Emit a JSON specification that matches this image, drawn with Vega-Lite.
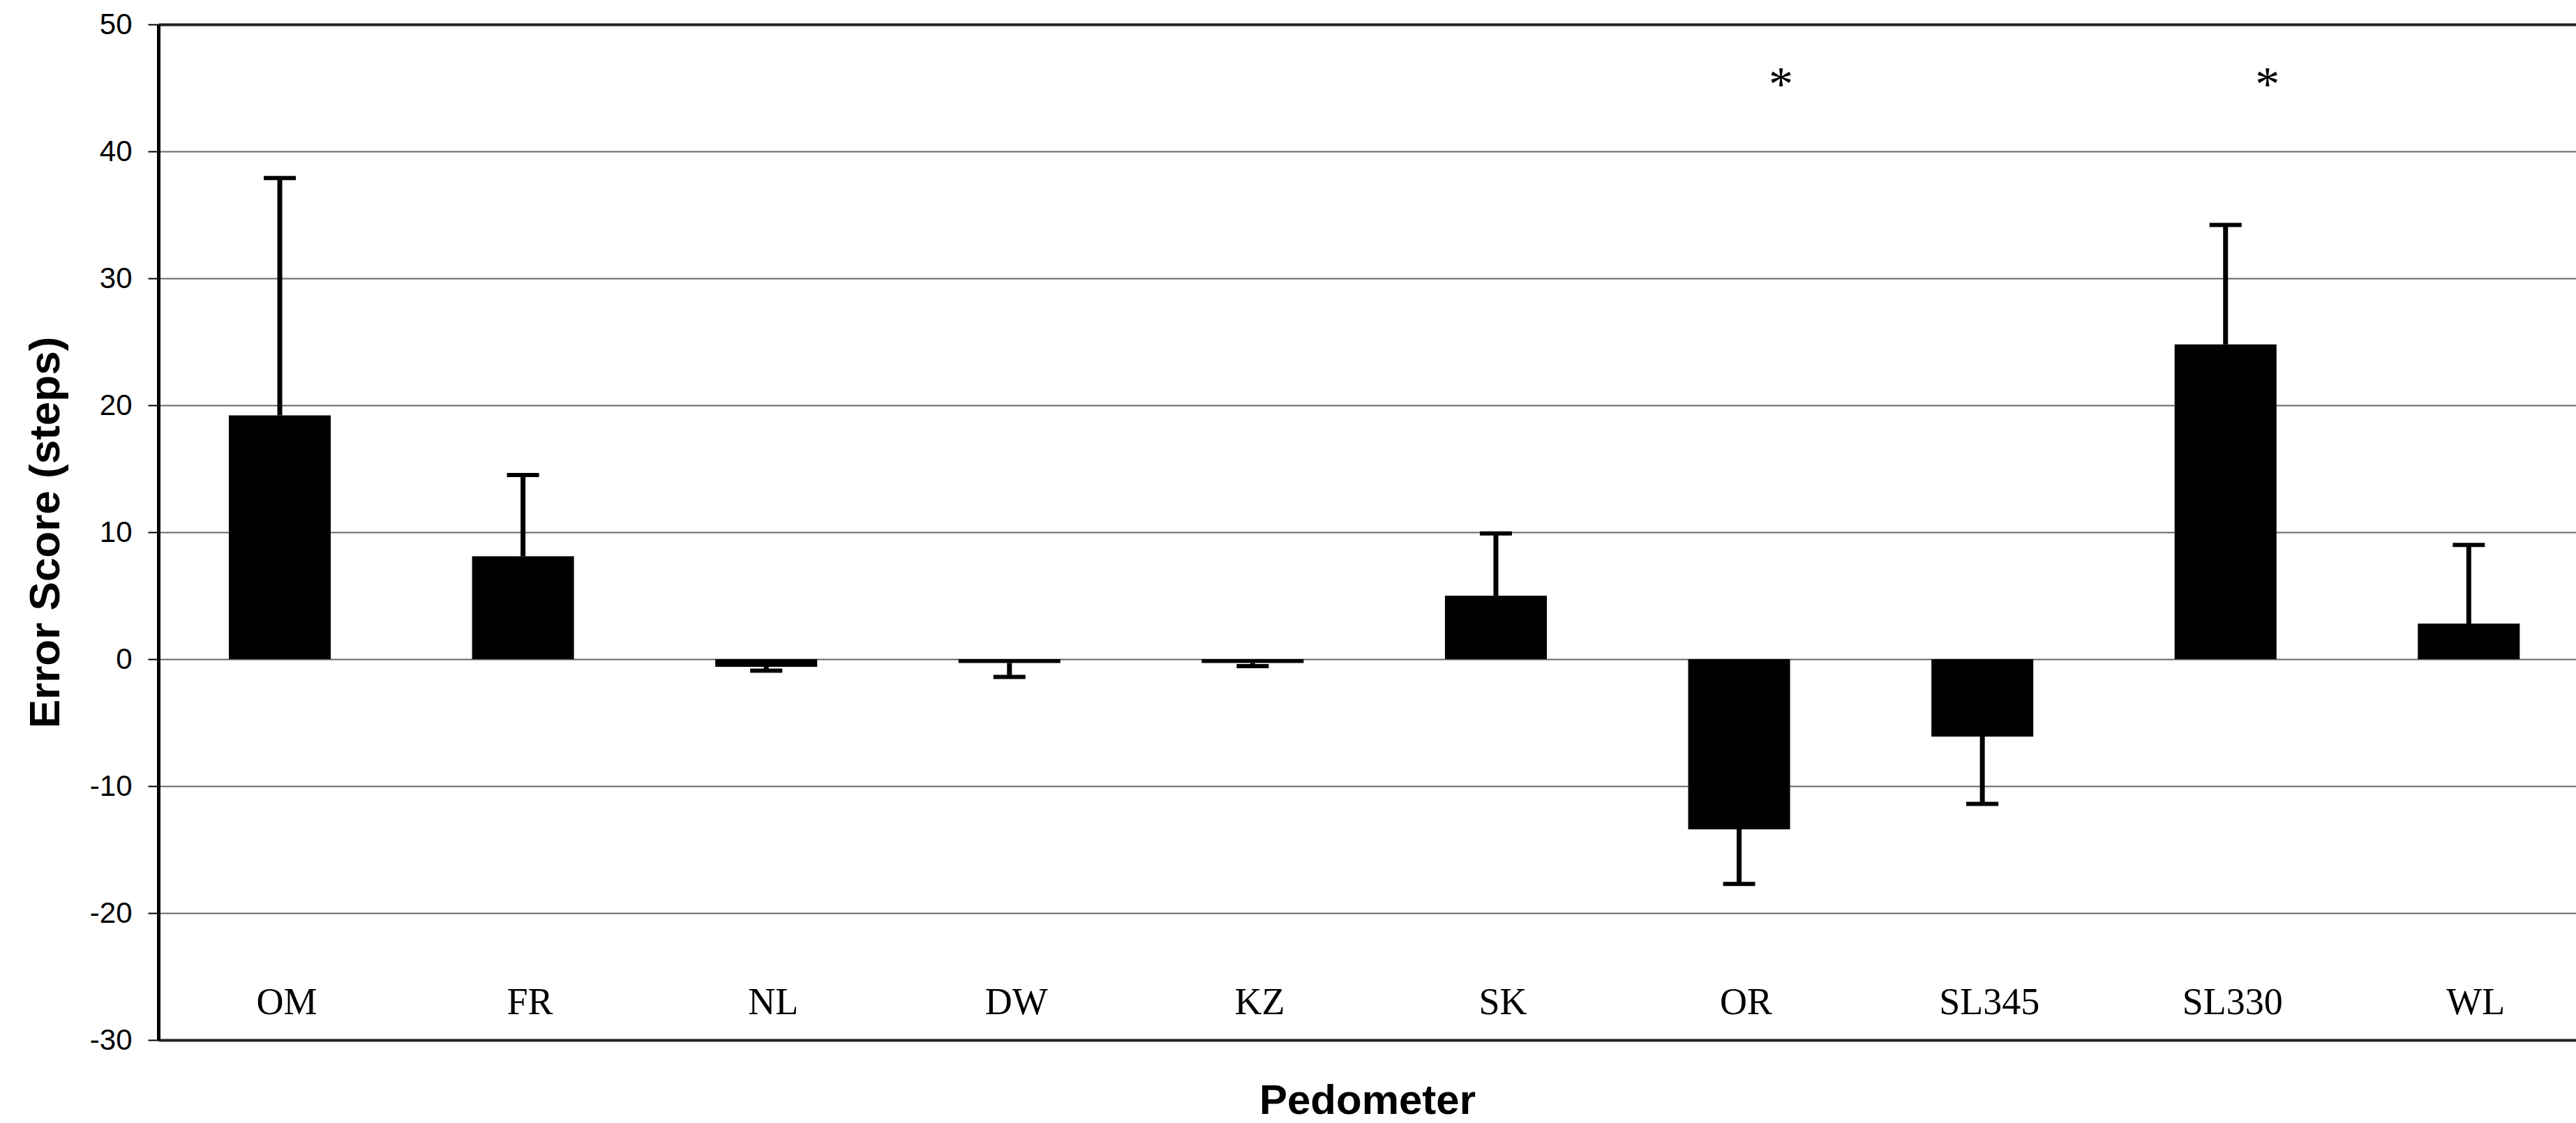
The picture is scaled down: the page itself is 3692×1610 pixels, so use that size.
{
  "$schema": "https://vega.github.io/schema/vega-lite/v6.json",
  "width": 3465,
  "height": 1456,
  "autosize": {"type": "none"},
  "padding": {"left": 227, "top": 35, "right": 0, "bottom": 119},
  "background": "white",
  "config": {"view": {"stroke": null}},
  "data": {
    "values": [
      {"name": "OM", "mean": 19.2, "end": 37.9, "sig": false},
      {"name": "FR", "mean": 8.1, "end": 14.5, "sig": false},
      {"name": "NL", "mean": -0.6, "end": -0.9, "sig": false},
      {"name": "DW", "mean": -0.3, "end": -1.4, "sig": false},
      {"name": "KZ", "mean": -0.3, "end": -0.55, "sig": false},
      {"name": "SK", "mean": 5.0, "end": 9.9, "sig": false},
      {"name": "OR", "mean": -13.4, "end": -17.7, "sig": true},
      {"name": "SL345", "mean": -6.1, "end": -11.4, "sig": false},
      {"name": "SL330", "mean": 24.8, "end": 34.2, "sig": true},
      {"name": "WL", "mean": 2.8, "end": 9.0, "sig": false}
    ]
  },
  "encoding": {
    "x": {
      "field": "name",
      "type": "nominal",
      "sort": null,
      "scale": {"paddingInner": 0.581, "paddingOuter": 0.2605, "align": 0.556},
      "axis": {
        "title": "Pedometer",
        "titleFont": "Liberation Sans",
        "titleFontSize": 60,
        "titleFontWeight": "bold",
        "titleColor": "black",
        "titlePadding": 58,
        "minExtent": 0,
        "labelFont": "Liberation Serif",
        "labelFontSize": 54,
        "labelColor": "black",
        "labelAngle": 0,
        "labelBaseline": "alphabetic",
        "labelPadding": -38,
        "labelOffset": 10,
        "ticks": false,
        "domain": false,
        "grid": false
      }
    }
  },
  "layer": [
    {
      "mark": {"type": "bar", "color": "black"},
      "encoding": {
        "y": {
          "field": "mean",
          "type": "quantitative",
          "title": "Error Score (steps)",
          "scale": {"domain": [-30, 50], "nice": false, "zero": false},
          "axis": {
            "title": "Error Score (steps)",
            "titleFont": "Liberation Sans",
            "titleFontSize": 62,
            "titleFontWeight": "bold",
            "titleColor": "black",
            "titlePadding": 31,
            "values": [-30, -20, -10, 0, 10, 20, 30, 40, 50],
            "labelExpr": "'' + datum.value",
            "labelFont": "Liberation Sans",
            "labelFontSize": 42,
            "labelColor": "black",
            "labelPadding": 23,
            "tickSize": 15,
            "tickWidth": 2,
            "tickColor": "black",
            "domainColor": "black",
            "domainWidth": 5,
            "grid": true,
            "gridColor": {"condition": {"test": "datum.value == 50 || datum.value == -30", "value": "#222222"}, "value": "#666666"},
            "gridWidth": {"condition": {"test": "datum.value == 50 || datum.value == -30", "value": 4}, "value": 2}
          }
        }
      }
    },
    {
      "mark": {"type": "rule", "color": "black", "strokeWidth": 7},
      "encoding": {
        "y": {"field": "mean", "type": "quantitative", "title": "Error Score (steps)", "scale": {"domain": [-30, 50], "nice": false, "zero": false}},
        "y2": {"field": "end"}
      }
    },
    {
      "mark": {"type": "tick", "color": "black", "size": 46, "thickness": 6, "opacity": 1},
      "encoding": {
        "y": {"field": "end", "type": "quantitative", "title": "Error Score (steps)", "scale": {"domain": [-30, 50], "nice": false, "zero": false}}
      }
    },
    {
      "transform": [{"filter": "datum.sig"}],
      "mark": {"type": "text", "text": "*", "font": "Liberation Serif", "fontSize": 70, "dx": 60, "baseline": "alphabetic", "align": "center", "color": "black"},
      "encoding": {
        "y": {"datum": 44, "type": "quantitative", "title": "Error Score (steps)", "scale": {"domain": [-30, 50], "nice": false, "zero": false}}
      }
    }
  ]
}
